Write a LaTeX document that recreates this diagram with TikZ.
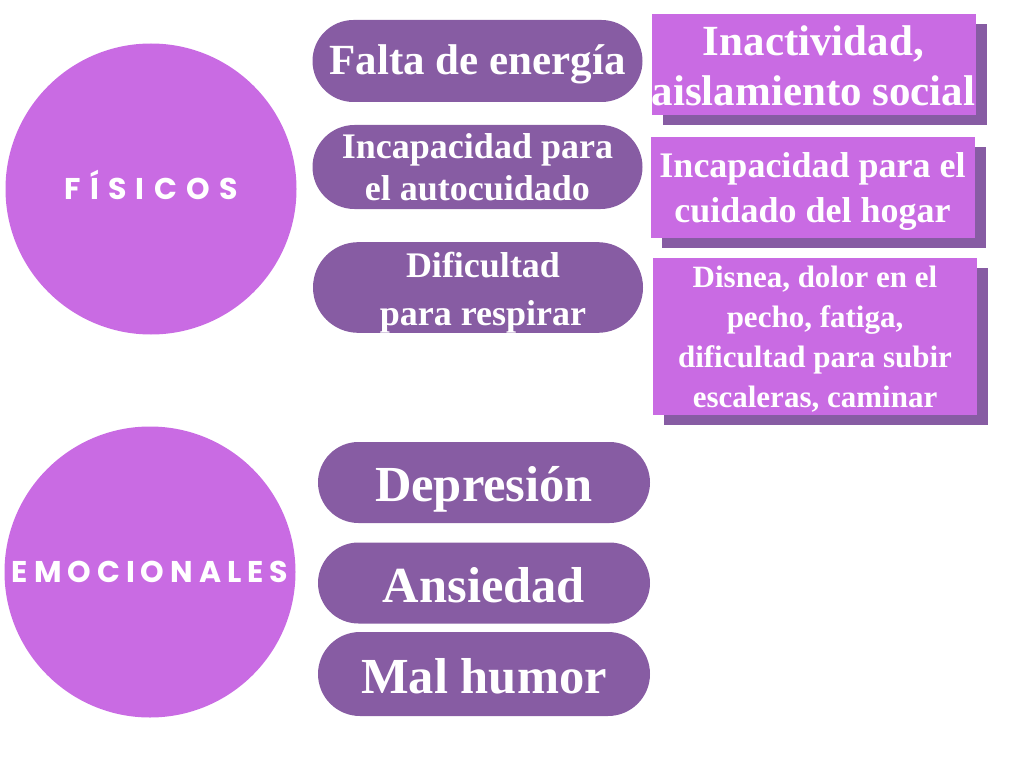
\documentclass[tikz,border=0pt]{standalone}
\usepackage{fontspec}
\setmainfont{Liberation Serif}
\newfontfamily\capsfont[LetterSpace=25]{Poppins}
\usetikzlibrary{shapes.misc, shadows}
\definecolor{lila}{HTML}{C96BE3}
\definecolor{uva}{HTML}{875CA3}
\newcommand{\lift}[1]{\rule{0pt}{#1}}
\tikzset{
  bigdot/.style = {circle, fill=lila, minimum size=291pt, inner sep=0pt,
                   text=white, font=\capsfont\bfseries\fontsize{30}{30}\selectfont},
  pill/.style   = {rounded rectangle, fill=uva, text=white, inner sep=0pt,
                   align=center, minimum width=330pt},
  card/.style   = {rectangle, fill=lila, text=white, inner sep=0pt, align=center,
                   minimum width=324pt,
                   general shadow={fill=uva, shadow xshift=11pt, shadow yshift=-10pt}},
  big/.style    = {font=\bfseries\fontsize{50.5}{56}\selectfont, text height=38pt, text depth=0pt},
  mid/.style    = {font=\bfseries\fontsize{43}{50}\selectfont},
  sml/.style    = {font=\bfseries\fontsize{36}{#1}\selectfont},
}

\begin{document}
\begin{tikzpicture}[x=1pt, y=-1pt]
  \useasboundingbox (0,0) rectangle (1020,765);
  % categorias
  \node[bigdot, text depth=8pt] (fis) at (151,189) {\addfontfeatures{LetterSpace=31}FÍSICOS};
  \node[bigdot] (emo) at (150,572) {\addfontfeatures{LetterSpace=20}EMOCIONALES};
  % fisicos
  \node[pill, mid, minimum height=82pt] (energia) at (477.5,61) {\lift{36pt}Falta de energía};
  \node[pill, sml=42, minimum height=84pt] (autocuid) at (477.5,167) {Incapacidad para\\el autocuidado};
  \node[pill, sml=48, minimum height=89pt] (respira) at (478,287.5)
    {\hspace*{10pt}\lift{35pt}Dificultad\\\hspace*{10pt}para respirar};
  \node[card, mid, minimum height=101pt] (aisla) at (813.5,64.5) {\lift{33pt}Inactividad,\\aislamiento social};
  \node[card, sml=45, minimum height=101pt] (hogar) at (812.5,187.5) {\lift{33pt}Incapacidad para el\\cuidado del hogar};
  \node[card, font=\bfseries\fontsize{31}{40}\selectfont, minimum height=157pt] (disnea) at (815,336.5)
    {\lift{27pt}Disnea, dolor en el\\pecho, fatiga,\\dificultad para subir\\escaleras, caminar};
  % emocionales
  \node[pill, big, minimum width=332pt, minimum height=81pt] (depre) at (484,482.5) {Depresión};
  \node[pill, big, minimum width=332pt, minimum height=81pt] (ansie) at (484,583) {Ansiedad};
  \node[pill, big, minimum width=332pt, minimum height=84pt] (humor) at (484,674) {Mal humor};
\end{tikzpicture}
\end{document}
